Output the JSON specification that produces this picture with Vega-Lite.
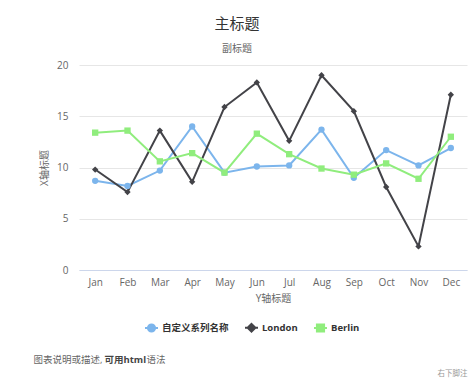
{
  "$schema": "https://vega.github.io/schema/vega-lite/v6.json",
  "width": 388,
  "height": 205,
  "autosize": {"type": "none"},
  "padding": {"left": 79, "top": 65, "right": 7, "bottom": 114},
  "background": "white",
  "config": {"view": {"stroke": null}},
  "title": {
    "text": "主标题",
    "subtitle": "副标题",
    "anchor": "middle",
    "dx": -36,
    "font": "Open Sans, Noto Sans CJK SC, sans-serif",
    "subtitleFont": "Open Sans, Noto Sans CJK SC, sans-serif",
    "fontSize": 15,
    "fontWeight": "normal",
    "color": "#333333",
    "subtitleFontSize": 10,
    "subtitleColor": "#666666",
    "subtitlePadding": 12,
    "offset": 6
  },
  "data": {
    "values": [
      {"month": "Jan", "series": "自定义系列名称", "value": 8.7},
      {"month": "Feb", "series": "自定义系列名称", "value": 8.2},
      {"month": "Mar", "series": "自定义系列名称", "value": 9.7},
      {"month": "Apr", "series": "自定义系列名称", "value": 14.0},
      {"month": "May", "series": "自定义系列名称", "value": 9.5},
      {"month": "Jun", "series": "自定义系列名称", "value": 10.1},
      {"month": "Jul", "series": "自定义系列名称", "value": 10.2},
      {"month": "Aug", "series": "自定义系列名称", "value": 13.7},
      {"month": "Sep", "series": "自定义系列名称", "value": 9.0},
      {"month": "Oct", "series": "自定义系列名称", "value": 11.7},
      {"month": "Nov", "series": "自定义系列名称", "value": 10.2},
      {"month": "Dec", "series": "自定义系列名称", "value": 11.9},
      {"month": "Jan", "series": "London", "value": 9.8},
      {"month": "Feb", "series": "London", "value": 7.6},
      {"month": "Mar", "series": "London", "value": 13.6},
      {"month": "Apr", "series": "London", "value": 8.6},
      {"month": "May", "series": "London", "value": 15.9},
      {"month": "Jun", "series": "London", "value": 18.3},
      {"month": "Jul", "series": "London", "value": 12.6},
      {"month": "Aug", "series": "London", "value": 19.0},
      {"month": "Sep", "series": "London", "value": 15.5},
      {"month": "Oct", "series": "London", "value": 8.1},
      {"month": "Nov", "series": "London", "value": 2.3},
      {"month": "Dec", "series": "London", "value": 17.1},
      {"month": "Jan", "series": "Berlin", "value": 13.4},
      {"month": "Feb", "series": "Berlin", "value": 13.6},
      {"month": "Mar", "series": "Berlin", "value": 10.6},
      {"month": "Apr", "series": "Berlin", "value": 11.4},
      {"month": "May", "series": "Berlin", "value": 9.5},
      {"month": "Jun", "series": "Berlin", "value": 13.3},
      {"month": "Jul", "series": "Berlin", "value": 11.3},
      {"month": "Aug", "series": "Berlin", "value": 9.9},
      {"month": "Sep", "series": "Berlin", "value": 9.3},
      {"month": "Oct", "series": "Berlin", "value": 10.4},
      {"month": "Nov", "series": "Berlin", "value": 8.9},
      {"month": "Dec", "series": "Berlin", "value": 13.0}
    ]
  },
  "encoding": {
    "y": {
      "field": "value",
      "type": "quantitative",
      "scale": {"domain": [0, 20], "nice": false},
      "axis": {
        "title": "X轴标题",
        "values": [0, 5, 10, 15, 20],
        "grid": true,
        "gridColor": "#e6e6e6",
        "domain": false,
        "ticks": false,
        "tickSize": 0,
        "labelPadding": 11,
        "labelFont": "Open Sans, Noto Sans CJK SC, sans-serif",
        "labelFontSize": 10,
        "labelColor": "#666666",
        "titleFont": "Open Sans, Noto Sans CJK SC, sans-serif",
        "titleFontSize": 10,
        "titleFontWeight": "normal",
        "titleColor": "#666666",
        "titleX": -35,
        "titleY": 102.5,
        "titleAngle": -90,
        "titleAlign": "center",
        "titleBaseline": "middle"
      }
    },
    "color": {
      "field": "series",
      "type": "nominal",
      "scale": {"domain": ["自定义系列名称", "London", "Berlin"], "range": ["#7cb5ec", "#434348", "#90ed7d"]},
      "legend": {
        "title": null,
        "orient": "none",
        "legendX": 65,
        "legendY": 255,
        "direction": "horizontal",
        "labelFont": "Open Sans, Noto Sans CJK SC, sans-serif",
        "labelFontSize": 9.5,
        "labelFontWeight": "bold",
        "labelColor": "#333333",
        "symbolSize": 169,
        "columnPadding": 12,
        "labelOffset": 3,
        "symbolType": {"expr": "datum.value === 'London' ? 'M-1,0H1M0,-0.6L0.6,0L0,0.6L-0.6,0Z' : (datum.value === 'Berlin' ? 'M-1,0H1M-0.55,-0.55H0.55V0.55H-0.55Z' : 'M-1,0H1M0.55,0A0.55,0.55 0 1,1 -0.55,0A0.55,0.55 0 1,1 0.55,0Z')"},
        "symbolStrokeColor": {"expr": "scale('color', datum.value)"},
        "symbolFillColor": {"expr": "scale('color', datum.value)"},
        "symbolStrokeWidth": 2,
        "symbolOpacity": 1
      }
    }
  },
  "layer": [
    {
      "transform": [{"filter": "datum.series === '自定义系列名称'"}],
      "mark": {"type": "line", "strokeWidth": 2},
      "encoding": {
        "x": {
          "field": "month", "type": "ordinal",
          "sort": ["Jan","Feb","Mar","Apr","May","Jun","Jul","Aug","Sep","Oct","Nov","Dec"],
          "scale": {"type": "point", "padding": 0.5},
          "axis": {
            "title": "Y轴标题",
            "labelAngle": 0,
            "ticks": false,
            "tickSize": 0,
            "labelPadding": 7,
            "labelFont": "Open Sans, Noto Sans CJK SC, sans-serif",
            "labelFontSize": 10,
            "labelColor": "#666666",
            "domainColor": "#ccd6eb",
            "domainWidth": 1,
            "grid": false,
            "titleFont": "Open Sans, Noto Sans CJK SC, sans-serif",
            "titleFontSize": 10,
            "titleFontWeight": "normal",
            "titleColor": "#666666",
            "titleY": 28,
            "titleBaseline": "middle"
          }
        }
      }
    },
    {
      "transform": [{"filter": "datum.series === 'London'"}],
      "mark": {"type": "line", "strokeWidth": 2},
      "encoding": {
        "x": {
          "field": "month", "type": "ordinal",
          "sort": ["Jan","Feb","Mar","Apr","May","Jun","Jul","Aug","Sep","Oct","Nov","Dec"],
          "scale": {"type": "point", "padding": 0.5},
          "axis": {
            "title": "图表说明或描述,",
            "labels": false, "ticks": false, "domain": false, "grid": false,
            "titleX": -46, "titleY": 294,
            "titleAlign": "left", "titleBaseline": "middle",
            "titleFont": "Open Sans, Noto Sans CJK SC, sans-serif",
            "titleFontSize": 9.5, "titleFontWeight": "normal", "titleColor": "#666666"
          }
        }
      }
    },
    {
      "transform": [{"filter": "datum.series === 'Berlin'"}],
      "mark": {"type": "line", "strokeWidth": 2},
      "encoding": {
        "x": {
          "field": "month", "type": "ordinal",
          "sort": ["Jan","Feb","Mar","Apr","May","Jun","Jul","Aug","Sep","Oct","Nov","Dec"],
          "scale": {"type": "point", "padding": 0.5},
          "axis": {
            "title": "可用html",
            "labels": false, "ticks": false, "domain": false, "grid": false,
            "titleX": 25, "titleY": 294,
            "titleAlign": "left", "titleBaseline": "middle",
            "titleFont": "Open Sans, Noto Sans CJK SC, sans-serif",
            "titleFontSize": 9.5, "titleFontWeight": "bold", "titleColor": "#444444"
          }
        }
      }
    },
    {
      "transform": [{"filter": "datum.series === '自定义系列名称'"}],
      "mark": {"type": "point", "filled": true, "size": 40, "opacity": 1, "shape": "circle"},
      "encoding": {
        "x": {
          "field": "month", "type": "ordinal",
          "sort": ["Jan","Feb","Mar","Apr","May","Jun","Jul","Aug","Sep","Oct","Nov","Dec"],
          "scale": {"type": "point", "padding": 0.5},
          "axis": {
            "title": "语法",
            "labels": false, "ticks": false, "domain": false, "grid": false,
            "titleX": 67, "titleY": 294,
            "titleAlign": "left", "titleBaseline": "middle",
            "titleFont": "Open Sans, Noto Sans CJK SC, sans-serif",
            "titleFontSize": 9.5, "titleFontWeight": "normal", "titleColor": "#666666"
          }
        }
      }
    },
    {
      "transform": [{"filter": "datum.series === 'London'"}],
      "mark": {"type": "point", "filled": true, "size": 40, "opacity": 1, "shape": "diamond"},
      "encoding": {
        "x": {
          "field": "month", "type": "ordinal",
          "sort": ["Jan","Feb","Mar","Apr","May","Jun","Jul","Aug","Sep","Oct","Nov","Dec"],
          "scale": {"type": "point", "padding": 0.5},
          "axis": {
            "title": "右下脚注",
            "labels": false, "ticks": false, "domain": false, "grid": false,
            "titleX": 388, "titleY": 308,
            "titleAlign": "right", "titleBaseline": "middle",
            "titleFont": "Open Sans, Noto Sans CJK SC, sans-serif",
            "titleFontSize": 7.5, "titleFontWeight": "normal", "titleColor": "#999999"
          }
        }
      }
    },
    {
      "transform": [{"filter": "datum.series === 'Berlin'"}],
      "mark": {"type": "point", "filled": true, "size": 40, "opacity": 1, "shape": "square"},
      "encoding": {
        "x": {
          "field": "month", "type": "ordinal",
          "sort": ["Jan","Feb","Mar","Apr","May","Jun","Jul","Aug","Sep","Oct","Nov","Dec"],
          "scale": {"type": "point", "padding": 0.5},
          "axis": null
        }
      }
    }
  ],
  "resolve": {"axis": {"x": "independent"}}
}
